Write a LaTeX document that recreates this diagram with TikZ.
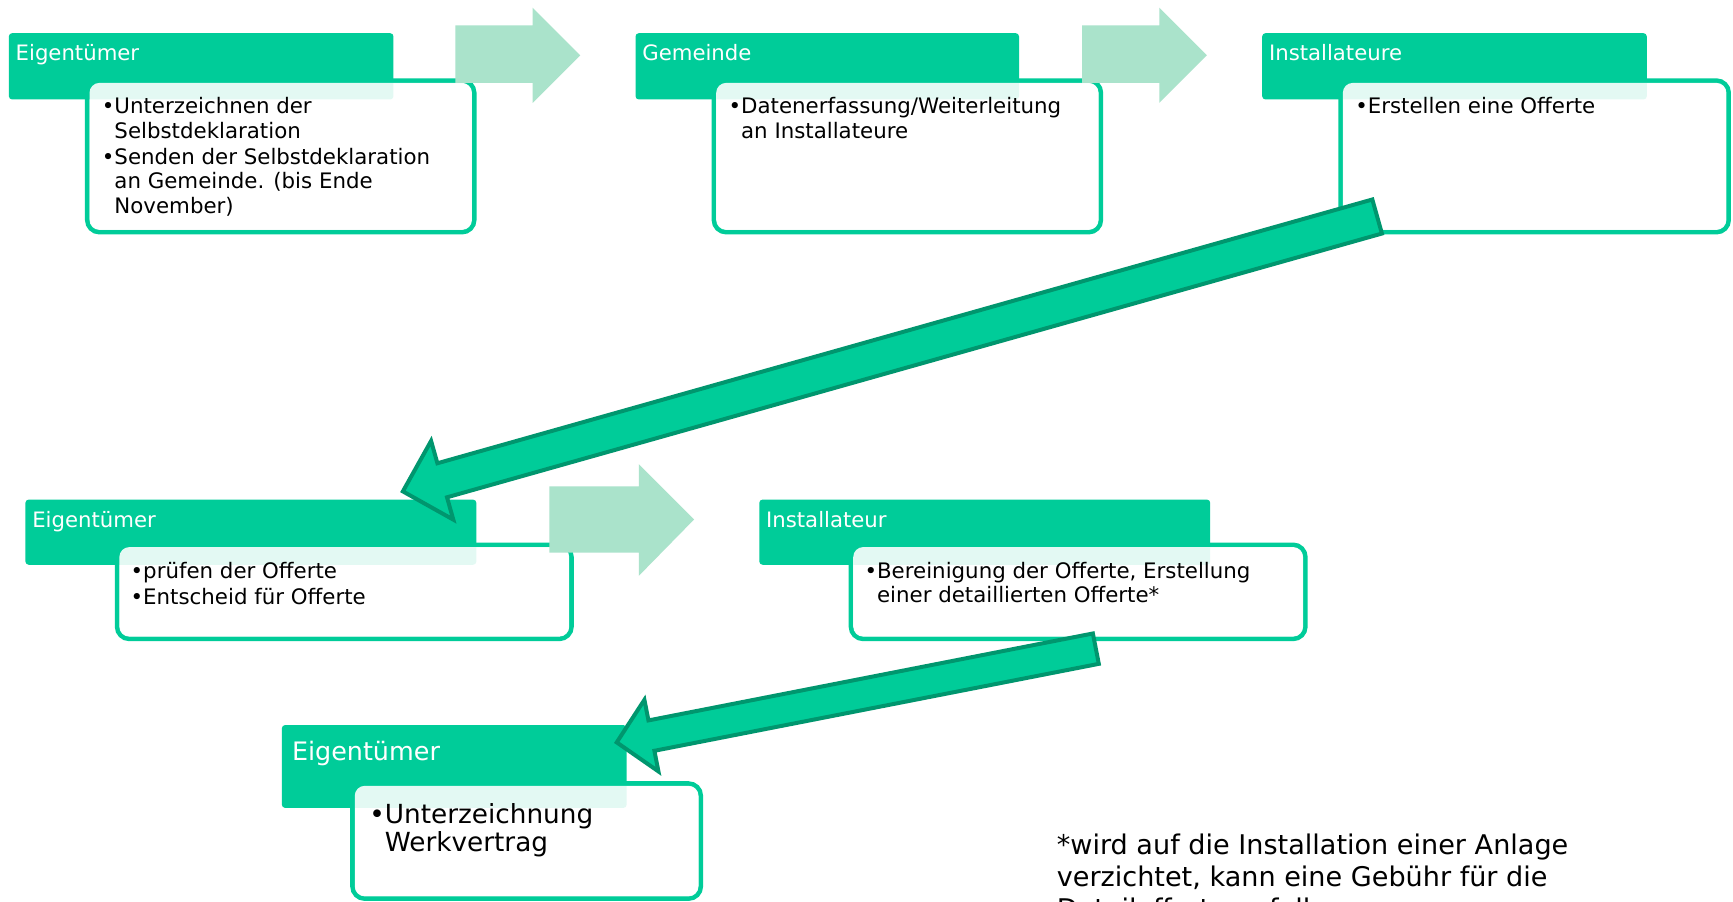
\documentclass[tikz,border=0pt]{standalone}
\usepackage{fontspec}
\setmainfont{DejaVu Sans}
\definecolor{hdr}{RGB}{0,204,153}
\definecolor{lightarr}{RGB}{170,227,203}
\definecolor{arrline}{RGB}{0,150,110}
\tikzset{
  hdrbox/.style={fill=hdr, rounded corners=3pt},
  bodyframe/.style={draw=hdr, line width=4.3pt, rounded corners=11pt},
  bodyveil/.style={fill=white, fill opacity=0.89, rounded corners=9pt},
  lightarrow/.style={fill=lightarr},
  bigarrow/.style={fill=hdr, draw=arrline, line width=3.6pt, line join=miter},
  hdrtext/.style={anchor=base west, inner sep=0pt, text=white, font=\fontsize{19.2}{22}\selectfont},
  hdrtextbig/.style={anchor=base west, inner sep=0pt, text=white, font=\fontsize{23}{26}\selectfont},
  bodytext/.style={anchor=base west, inner sep=0pt, font=\fontsize{19.3}{22}\selectfont},
  bodytextbig/.style={anchor=base west, inner sep=0pt, font=\fontsize{23.8}{25.5}\selectfont},
  notetext/.style={anchor=base west, inner sep=0pt, font=\fontsize{24.5}{29}\selectfont},
}
\begin{document}
\begin{tikzpicture}[x=1pt,y=-1pt]
\useasboundingbox (0,0) rectangle (1568,816);
\fill[white] (0,0) rectangle (1568,816);
% frames
\draw[bodyframe] (79,73) rectangle (429,210);
\draw[bodyframe] (646,73) rectangle (996,210);
\draw[bodyframe] (1213,73) rectangle (1564,210);
\draw[bodyframe] (106,493) rectangle (517,578);
\draw[bodyframe] (770,493) rectangle (1181,578);
\draw[bodyframe] (319,709) rectangle (634,813);
% headers
\fill[hdrbox] (8,30) rectangle (356,90);
\fill[hdrbox] (575,30) rectangle (922,90);
\fill[hdrbox] (1142,30) rectangle (1490,90);
\fill[hdrbox] (23,452) rectangle (431,511);
\fill[hdrbox] (687,452) rectangle (1095,511);
\fill[hdrbox] (255,656) rectangle (567,731);
% veils
\fill[bodyveil] (81,75) rectangle (427,208);
\fill[bodyveil] (648,75) rectangle (994,208);
\fill[bodyveil] (1215,75) rectangle (1562,208);
\fill[bodyveil] (108,495) rectangle (515,576);
\fill[bodyveil] (772,495) rectangle (1179,576);
\fill[bodyveil] (321,711) rectangle (632,811);
% header texts
\node[hdrtext] (t1) at (14,55) {Eigentümer};
\node[hdrtext] (t2) at (581,55) {Gemeinde};
\node[hdrtext] (t3) at (1148,55) {Installateure};
\node[hdrtext] (t4) at (29,477) {Eigentümer};
\node[hdrtext] (t5) at (693,477) {Installateur};
\node[hdrtextbig] (t6) at (264,688) {Eigentümer};
% body texts
\node[bodytext] (b1) at (92,103) {\begin{tabular}[t]{@{}l@{}l@{}}•&Unterzeichnen der\\ &Selbstdeklaration\\[2pt] •&Senden der Selbstdeklaration\\ &an Gemeinde. (bis Ende\\ &November)\end{tabular}};
\node[bodytext] (b2) at (659,103) {\begin{tabular}[t]{@{}l@{}l@{}}•&Datenerfassung/Weiterleitung\\ &an Installateure\end{tabular}};
\node[bodytext] (b3) at (1226,103) {\begin{tabular}[t]{@{}l@{}l@{}}•&Erstellen eine Offerte\end{tabular}};
\node[bodytext] (b4) at (118,523) {\begin{tabular}[t]{@{}l@{}l@{}}•&prüfen der Offerte\\[2pt] •&Entscheid für Offerte\end{tabular}};
\node[bodytext] (b5) at (782,523) {\begin{tabular}[t]{@{}l@{}l@{}}•&Bereinigung der Offerte, Erstellung\\ &einer detaillierten Offerte*\end{tabular}};
\node[bodytextbig] (b6) at (334,745) {\begin{tabular}[t]{@{}l@{}l@{}}•&Unterzeichnung\\ &Werkvertrag\end{tabular}};
% footnote
\node[notetext] (note) at (956,773) {\begin{tabular}[t]{@{}l@{}}*wird auf die Installation einer Anlage\\verzichtet, kann eine Gebühr für die\\Detailofferte anfallen.\end{tabular}};
% light arrows
\fill[lightarrow] (412,23) -- (482,23) -- (482,7) -- (525,50) -- (482,93) -- (482,75) -- (412,75) -- cycle;
\fill[lightarrow] (979,23) -- (1049,23) -- (1049,7) -- (1092,50) -- (1049,93) -- (1049,75) -- (979,75) -- cycle;
\fill[lightarrow] (497,440) -- (578,440) -- (578,420) -- (628,470) -- (578,521) -- (578,500) -- (497,500) -- cycle;
% big arrows
\draw[bigarrow] (364.5,444.6) -- (390.05,398.94) -- (395.76,419.15) -- (1241.66,180.5) -- (1250.34,211.3) -- (404.44,449.95) -- (410.15,470.16) -- cycle;
\draw[bigarrow] (558.0,671.7) -- (583.06,633.17) -- (586.71,651.82) -- (988.81,573.16) -- (994.19,600.64) -- (592.09,679.3) -- (595.74,697.95) -- cycle;
\end{tikzpicture}
\end{document}
